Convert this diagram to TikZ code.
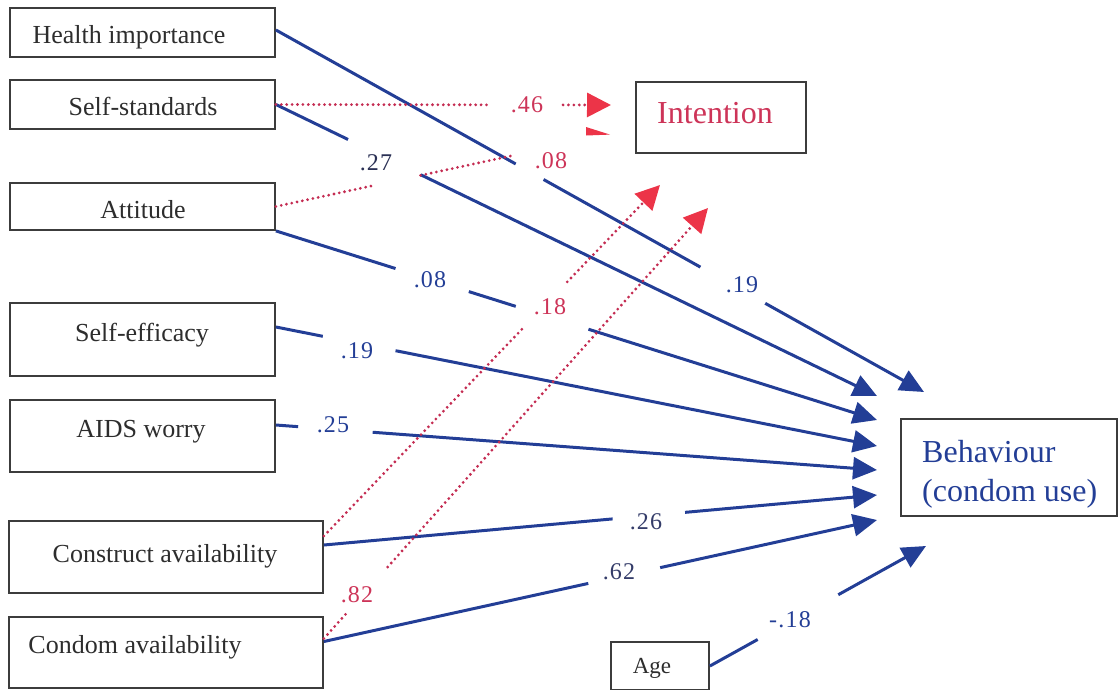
\documentclass[tikz,border=0pt]{standalone}
\usepackage{fontspec}
\setmainfont{Liberation Serif}
\newfontfamily\numfont[LetterSpace=5]{Liberation Serif}
\usetikzlibrary{arrows.meta,calc}

\definecolor{pathblue}{RGB}{35,62,150}
\definecolor{pathred}{RGB}{196,44,82}
\definecolor{tipred}{RGB}{236,52,72}
\definecolor{txtred}{RGB}{205,52,88}
\definecolor{boxline}{RGB}{60,60,60}
\definecolor{boxtext}{RGB}{45,45,45}
\definecolor{slatecoef}{RGB}{52,60,105}

% one piece of a connector, between two fractions of the way from #2 to #3
\newcommand\drawpart[5]{\draw[#1] ($(#2)!#4!(#3)$) -- ($(#2)!#5!(#3)$);}

\begin{document}
\begin{tikzpicture}[x=1pt,y=-1pt,
  box/.style={draw=boxline,line width=1.8pt,inner sep=0pt},
  boxtxt/.style={text=boxtext,inner sep=0pt,anchor=base,font=\fontsize{26}{30}\selectfont},
  coef/.style={inner sep=0pt,font=\numfont\fontsize{24}{27}\selectfont},
  bluecoef/.style={coef,text=pathblue},
  redcoef/.style={coef,text=txtred},
  blueline/.style={draw=pathblue,line width=3pt},
  bluearrow/.style={blueline,-{Triangle[length=24pt,width=22pt]}},
  redline/.style={draw=pathred,line width=3.1pt,line cap=round,dash pattern=on 0pt off 5.4pt},
  redarrow/.style={redline,-{Triangle[length=24pt,width=24pt,color=tipred]}},
]
\useasboundingbox (0,0) rectangle (1119,689);

% ---- boxes ----
\node[box,minimum width=265pt,minimum height=49pt] (hiBox) at (142.5,32.5) {};
\node[box,minimum width=265pt,minimum height=49pt] (ssBox) at (142.5,104.5) {};
\node[box,minimum width=265pt,minimum height=47pt] (atBox) at (142.5,206.5) {};
\node[box,minimum width=265pt,minimum height=73pt] (seBox) at (142.5,339.5) {};
\node[box,minimum width=265pt,minimum height=72pt] (awBox) at (142.5,436) {};
\node[box,minimum width=314pt,minimum height=72pt] (caBox) at (166,557) {};
\node[box,minimum width=314pt,minimum height=71pt] (coBox) at (166,652.5) {};
\node[box,minimum width=170pt,minimum height=71pt] (inBox) at (721,117.5) {};
\node[box,minimum width=216pt,minimum height=97pt] (beBox) at (1009,467.5) {};
\node[box,minimum width=98pt,minimum height=48pt] (agBox) at (660,666) {};

% ---- box texts ----
\node[boxtxt] (hiTxt) at (129,43) {Health importance};
\node[boxtxt] (ssTxt) at (143,115) {Self-standards};
\node[boxtxt] (atTxt) at (143,218) {Attitude};
\node[boxtxt] (seTxt) at (142,341) {Self-efficacy};
\node[boxtxt] (awTxt) at (141,437) {AIDS worry};
\node[boxtxt] (caTxt) at (165,562) {Construct availability};
\node[boxtxt] (coTxt) at (135,653) {Condom availability};
\node[boxtxt,font=\fontsize{23}{26}\selectfont] (agTxt) at (652,673) {Age};
\node[inner sep=0pt,anchor=base,text=txtred,font=\fontsize{32}{38}\selectfont] (inTxt) at (715,123) {Intention};
\node[inner sep=0pt,anchor=base west,text=pathblue,font=\fontsize{32}{39}\selectfont] (beTxtA) at (922,462) {Behaviour};
\node[inner sep=0pt,anchor=base west,text=pathblue,font=\fontsize{32}{39}\selectfont] (beTxtB) at (922,501) {(condom use)};

% ---- connector ends ----
\coordinate (sHI) at ([yshift=2.5pt]hiBox.east);
\coordinate (sSS) at (ssBox.east);
\coordinate (sATb) at (atBox.south east);
\coordinate (sATr) at (atBox.east);
\coordinate (sSE) at ([yshift=12.5pt]seBox.east);
\coordinate (sAW) at ([yshift=11pt]awBox.east);
\coordinate (sCAb) at ([yshift=12pt]caBox.east);
\coordinate (sCAr) at ([yshift=21pt]caBox.east);
\coordinate (sCOb) at ([yshift=11pt]coBox.east);
\coordinate (sCOr) at ([yshift=14pt]coBox.east);
\coordinate (sAG) at (agBox.east);

\coordinate (tHI) at (924,392);
\coordinate (tSS) at (877,396);
\coordinate (tAT) at (877,420);
\coordinate (tSE) at (877,446);
\coordinate (tAW) at (877,470);
\coordinate (tCA) at (877,495);
\coordinate (tCO) at (877,520);
\coordinate (tAG) at (926,546);

\coordinate (iSS) at (611,105);
\coordinate (iAT) at (610,134.6);
\coordinate (iCA) at (660,185);
\coordinate (iCO) at (708,208);

% ---- paths to behaviour ----
\drawpart{blueline}{sHI}{tHI}{0}{0.370}
\drawpart{blueline}{sHI}{tHI}{0.413}{0.655}
\drawpart{bluearrow}{sHI}{tHI}{0.755}{1}

\drawpart{blueline}{sSS}{tSS}{0}{0.120}
\drawpart{bluearrow}{sSS}{tSS}{0.241}{1}

\drawpart{blueline}{sATb}{tAT}{0}{0.199}
\drawpart{blueline}{sATb}{tAT}{0.321}{0.399}
\drawpart{bluearrow}{sATb}{tAT}{0.520}{1}

\drawpart{blueline}{sSE}{tSE}{0}{0.078}
\drawpart{bluearrow}{sSE}{tSE}{0.199}{1}

\drawpart{blueline}{sAW}{tAW}{0}{0.037}
\drawpart{bluearrow}{sAW}{tAW}{0.161}{1}

\drawpart{blueline}{sCAb}{tCA}{0}{0.522}
\drawpart{bluearrow}{sCAb}{tCA}{0.653}{1}

\drawpart{blueline}{sCOb}{tCO}{0}{0.478}
\drawpart{bluearrow}{sCOb}{tCO}{0.608}{1}

\drawpart{blueline}{sAG}{tAG}{0}{0.221}
\drawpart{bluearrow}{sAG}{tAG}{0.594}{1}

% ---- paths to intention ----
\drawpart{redline}{sSS}{iSS}{0}{0.634}
\drawpart{redarrow}{sSS}{iSS}{0.857}{1}

\drawpart{redline}{sATr}{iAT}{0}{0.290}
\drawpart{redline}{sATr}{iAT}{0.433}{0.716}
\fill[tipred] (586,127) -- (iAT) -- (586,135.5) -- cycle;

\drawpart{redline}{sCAr}{iCA}{0}{0.590}
\drawpart{redarrow}{sCAr}{iCA}{0.724}{1}

\drawpart{redline}{sCOr}{iCO}{0}{0.057}
\drawpart{redarrow}{sCOr}{iCO}{0.166}{1}

% ---- path coefficients ----
\node[coef,text=slatecoef!80!black] (cSS) at (376,163) {.27};
\node[bluecoef] (cATb) at (430,280) {.08};
\node[bluecoef] (cHI) at (742,285) {.19};
\node[bluecoef] (cSE) at (357,351) {.19};
\node[bluecoef] (cAW) at (333,425) {.25};
\node[coef,text=slatecoef] (cCA) at (646,522) {.26};
\node[coef,text=slatecoef] (cCO) at (619,572) {.62};
\node[bluecoef] (cAG) at (790,620) {-.18};

\node[redcoef] (iSSc) at (527,105) {.46};
\node[redcoef] (iATc) at (551,161) {.08};
\node[redcoef] (iCAc) at (550,307) {.18};
\node[redcoef] (iCOc) at (357,595) {.82};
\end{tikzpicture}
\end{document}
